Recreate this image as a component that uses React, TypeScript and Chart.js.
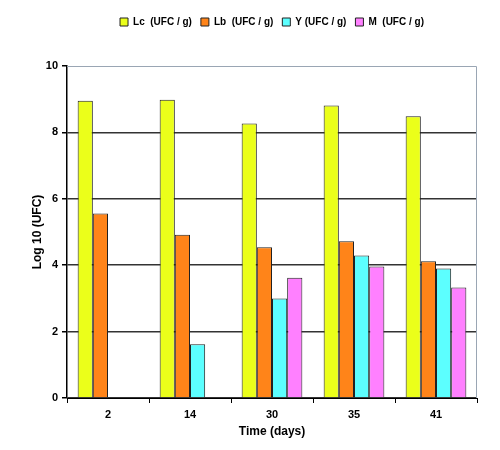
import React, { useEffect, useRef } from "react";
import { Chart, registerables } from "chart.js";

Chart.register(...registerables);

const days = ["2", "14", "30", "35", "41"];
const lcValues = [8.95, 8.98, 8.27, 8.81, 8.49];
const lbValues = [5.56, 4.92, 4.54, 4.72, 4.12];
const yValues: (number | null)[] = [null, 1.62, 3.0, 4.29, 3.9];
const mValues: (number | null)[] = [null, null, 3.62, 3.96, 3.33];
const seriesLabels = ["Lc  (UFC / g)", "Lb  (UFC / g)", "Y (UFC / g)", "M  (UFC / g)"];
const seriesColors = ["#EBFF1A", "#FF8419", "#5CFFFF", "#FF80FF"];

const FONT = "'Liberation Sans', Arial, sans-serif";

const frame = {
  id: "frame",
  afterDatasetsDraw(chart: any) {
    const { ctx, chartArea } = chart;
    ctx.save();
    ctx.strokeStyle = "#9aa6b4";
    ctx.lineWidth = 1;
    ctx.beginPath();
    ctx.moveTo(chartArea.left, chartArea.top + 0.5);
    ctx.lineTo(chartArea.right - 0.5, chartArea.top + 0.5);
    ctx.lineTo(chartArea.right - 0.5, chartArea.bottom);
    ctx.stroke();
    ctx.restore();
  },
};

const legendGap = {
  id: "legendGap",
  beforeInit(chart: any) {
    const orig = chart.legend.fit;
    chart.legend.fit = function () {
      orig.bind(this)();
      this.height += 29;
    };
  },
};

export default function App() {
  const ref = useRef<HTMLCanvasElement>(null);
  useEffect(() => {
    const all = [lcValues, lbValues, yValues, mValues];
    const chart = new Chart(ref.current!, {
      type: "bar",
      data: {
        labels: days,
        datasets: all.map((d, i) => ({
          label: seriesLabels[i],
          data: d,
          backgroundColor: seriesColors[i],
          borderColor: "#222",
          borderWidth: 1,
          categoryPercentage: 0.74,
          barPercentage: 1,
        })),
      },
      options: {
        animation: false,
        responsive: false,
        layout: { padding: { left: 0, right: 23, top: 8, bottom: 0 } },
        plugins: {
          legend: {
            position: "top",
            fullSize: false,
            labels: {
              boxWidth: 8,
              boxHeight: 8,
              padding: 9,
              color: "#000",
              font: { family: FONT, size: 10, weight: "bold" },
            },
          },
          tooltip: { enabled: false },
        },
        scales: {
          x: {
            grid: {
              drawOnChartArea: false,
              offset: true,
              tickLength: 5,
              color: "#000",
            },
            border: { color: "#000", width: 1 },
            ticks: { color: "#000", font: { family: FONT, size: 11, weight: "bold" }, padding: 5 },
            title: {
              display: true,
              text: "Time (days)",
              color: "#000",
              font: { family: FONT, size: 12, weight: "bold" },
              padding: { top: 4, bottom: 11 },
            },
            afterFit: (s: any) => {
              s.height = 52;
            },
          },
          y: {
            min: 0,
            max: 10,
            ticks: { stepSize: 2, color: "#000", font: { family: FONT, size: 11, weight: "bold" }, padding: 4 },
            grid: {
              color: (c: any) => (c.tick && c.tick.value === 10 ? "rgba(0,0,0,0)" : "#333"),
              lineWidth: 1.5,
              tickLength: 5,
              tickColor: "#000",
            },
            border: { color: "#000", width: 1.5 },
            title: {
              display: true,
              text: "Log 10 (UFC)",
              color: "#000",
              font: { family: FONT, size: 12, weight: "bold" },
              padding: { top: 30, bottom: 6 },
            },
            afterFit: (s: any) => {
              s.width = 67;
            },
          },
        },
      },
      plugins: [frame, legendGap],
    } as any);
    return () => chart.destroy();
  }, []);
  return (
    <div style={{ position: "fixed", left: 0, top: 0, width: 500, height: 450, background: "#fff" }}>
      <canvas ref={ref} width={500} height={450} />
    </div>
  );
}
